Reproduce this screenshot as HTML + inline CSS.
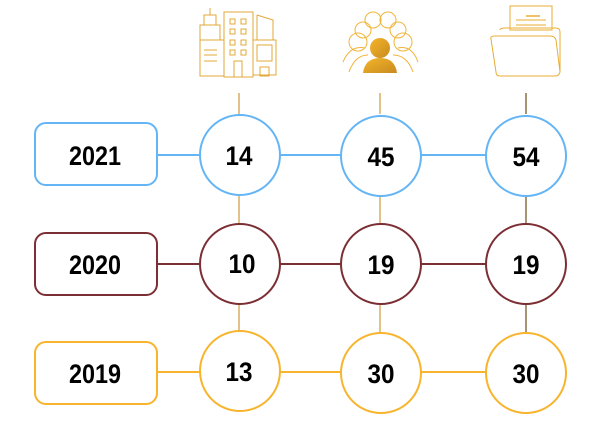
<!DOCTYPE html>
<html><head><style>
html,body{margin:0;padding:0;background:#fff;}
svg{display:block;}
text{font-family:"Liberation Sans",sans-serif;font-weight:bold;font-size:27px;text-anchor:middle;fill:#000;}
</style></head><body>
<svg width="601" height="421" viewBox="0 0 601 421" xmlns="http://www.w3.org/2000/svg">
<defs>
<linearGradient id="g" x1="0" y1="0" x2="1" y2="1"><stop offset="0" stop-color="#f5b52a"/><stop offset="1" stop-color="#c88a20"/></linearGradient>
</defs>
<g stroke-width="1.3">
<line x1="239" y1="93" x2="239" y2="114" stroke="#d4a24c"/>
<line x1="239" y1="196" x2="239" y2="224" stroke="#d4a24c"/>
<line x1="239" y1="305" x2="239" y2="331" stroke="#d4a24c"/>
<line x1="380" y1="93" x2="380" y2="114" stroke="#d4a24c"/>
<line x1="380" y1="196" x2="380" y2="224" stroke="#d4a24c"/>
<line x1="380" y1="305" x2="380" y2="332" stroke="#d4a24c"/>
<line x1="526" y1="93" x2="526" y2="114" stroke="#7a5a2a"/>
<line x1="526" y1="196" x2="526" y2="224" stroke="#7a5a2a"/>
<line x1="526" y1="305" x2="526" y2="332" stroke="#7a5a2a"/>
</g>
<g stroke-width="2">
<line x1="157" y1="155" x2="500" y2="155" stroke="#64b5f6"/>
<line x1="157" y1="264" x2="500" y2="264" stroke="#7b2e34"/>
<line x1="157" y1="372" x2="500" y2="372" stroke="#f7b42c"/>
</g>
<g fill="#fff" stroke-width="2">
<rect x="35" y="123" width="122" height="62" rx="11" stroke="#64b5f6"/>
<rect x="35" y="233" width="122" height="62" rx="11" stroke="#7b2e34"/>
<rect x="35" y="342" width="122" height="62" rx="11" stroke="#f7b42c"/>
<circle cx="240" cy="155" r="40" stroke="#64b5f6"/>
<circle cx="381" cy="156" r="40" stroke="#64b5f6"/>
<circle cx="526" cy="156" r="40" stroke="#64b5f6"/>
<circle cx="240" cy="264" r="40" stroke="#7b2e34"/>
<circle cx="381" cy="264" r="40" stroke="#7b2e34"/>
<circle cx="526" cy="264" r="40" stroke="#7b2e34"/>
<circle cx="240" cy="371" r="40" stroke="#f7b42c"/>
<circle cx="381" cy="373" r="40" stroke="#f7b42c"/>
<circle cx="526" cy="373" r="40" stroke="#f7b42c"/>
</g>
<text x="95" y="165" textLength="52" lengthAdjust="spacingAndGlyphs">2021</text>
<text x="95" y="274" textLength="52" lengthAdjust="spacingAndGlyphs">2020</text>
<text x="95" y="383" textLength="52" lengthAdjust="spacingAndGlyphs">2019</text>
<text x="239" y="165" textLength="27" lengthAdjust="spacingAndGlyphs">14</text>
<text x="381" y="166" textLength="27" lengthAdjust="spacingAndGlyphs">45</text>
<text x="526" y="166" textLength="27" lengthAdjust="spacingAndGlyphs">54</text>
<text x="242" y="273" textLength="27" lengthAdjust="spacingAndGlyphs">10</text>
<text x="381" y="274" textLength="27" lengthAdjust="spacingAndGlyphs">19</text>
<text x="526" y="274" textLength="27" lengthAdjust="spacingAndGlyphs">19</text>
<text x="239" y="381" textLength="27" lengthAdjust="spacingAndGlyphs">13</text>
<text x="381" y="383" textLength="27" lengthAdjust="spacingAndGlyphs">30</text>
<text x="526" y="383" textLength="27" lengthAdjust="spacingAndGlyphs">30</text>
<g fill="none" stroke="#e0a83a" stroke-width="1">
<line x1="210" y1="8" x2="210" y2="15"/>
<rect x="204" y="15" width="12" height="10"/>
<rect x="200" y="25" width="20" height="15"/>
<rect x="200" y="40" width="24" height="36"/>
<line x1="204" y1="50" x2="217" y2="50"/><line x1="204" y1="55" x2="217" y2="55"/><line x1="204" y1="61" x2="217" y2="61"/>
<rect x="224" y="12" width="29" height="65"/>
<rect x="230" y="19" width="5" height="5"/><rect x="241" y="19" width="5" height="5"/>
<rect x="230" y="29" width="5" height="5"/><rect x="241" y="29" width="5" height="5"/>
<rect x="230" y="40" width="5" height="5"/><rect x="241" y="40" width="5" height="5"/>
<rect x="230" y="50" width="5" height="5"/><rect x="241" y="50" width="5" height="5"/>
<rect x="234" y="61" width="8" height="16"/>
<path d="M257 15 L273 20 L273 40 M257 15 L257 40"/>
<rect x="253" y="40" width="23" height="35"/>
<rect x="257" y="45" width="15" height="16"/>
<rect x="260" y="67" width="9" height="9"/>
</g>
<g fill="none" stroke="#f0b43a" stroke-width="1">
<circle cx="373" cy="20" r="8"/><circle cx="388" cy="20" r="8"/>
<circle cx="363" cy="30" r="8"/><circle cx="398" cy="30" r="8"/>
<circle cx="358" cy="42" r="9"/><circle cx="403" cy="42" r="9"/>
<path d="M343 62 Q350 45 365 48"/><path d="M418 62 Q412 45 398 48"/>
<path d="M349 72 Q355 55 368 55"/><path d="M413 72 Q407 55 393 55"/>
</g>
<circle cx="380" cy="48" r="10" fill="url(#g)"/>
<path d="M363 73 Q365 58 380 58 Q395 58 397 73 Z" fill="url(#g)"/>
<g fill="none" stroke="#e8ad32" stroke-width="1">
<rect x="510" y="6" width="42" height="24" fill="#fff"/>
<line x1="526" y1="16" x2="540" y2="16" stroke-width="1.5"/>
<line x1="516" y1="20" x2="546" y2="20"/><line x1="516" y1="25" x2="546" y2="25"/>
<path d="M500 30 Q500 28 505 28 L556 28 Q560 28 560 32 L560 72"/>
<path d="M491 39 Q490 36 495 36 L550 36 Q555 36 556 40 L560 72 Q559 76 555 76 L500 76 Q496 76 496 72 Z" fill="#fff"/>
</g>
</svg>
</body></html>
